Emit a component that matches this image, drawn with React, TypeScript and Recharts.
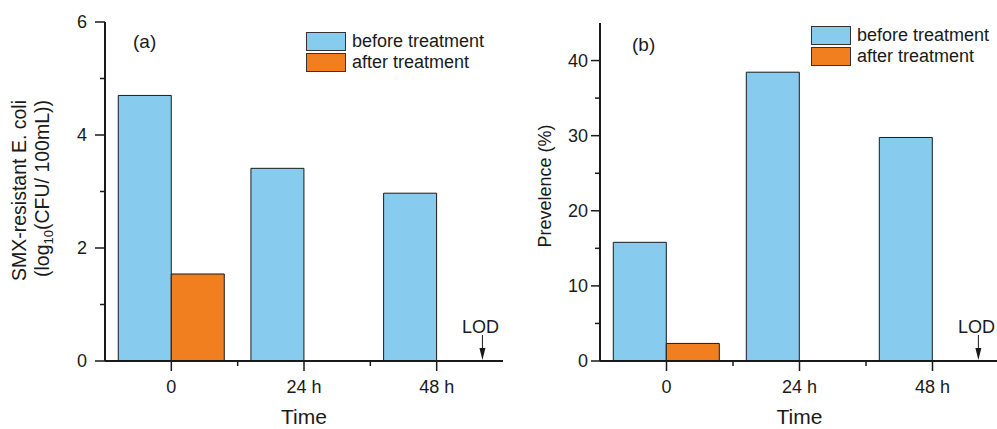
import { Bar, BarChart, Customized, Label, Legend, ReferenceDot, XAxis, YAxis } from "recharts"

const times = ["0", "24 h", "48 h"]
const seriesNames = ["before treatment", "after treatment"]
const coliBefore = [4.7, 3.41, 2.97]
const coliAfter = [1.54, 0, 0]
const prevBefore = [15.8, 38.45, 29.76]
const prevAfter = [2.34, 0, 0]
// after-treatment value fell below the limit of detection
const belowLod = [false, false, true]
const coliTicks = [0, 1, 2, 3, 4, 5, 6]
const prevTicks = [0, 5, 10, 15, 20, 25, 30, 35, 40]

const BLUE = "#87cbee"
const ORANGE = "#f17f20"
const INK = "#1a1a1a"
const FONT = "'Liberation Sans', Arial, sans-serif"
const H = 429

const coliData = times.map((t, i) => ({ time: t, before: coliBefore[i], after: coliAfter[i] }))
const prevData = times.map((t, i) => ({ time: t, before: prevBefore[i], after: prevAfter[i] }))

function makeYTick(majorStep: number, size: number, margin: number) {
  return (p: any) => {
    const v = p.payload.value
    const ax = p.x + size + margin
    const major = v % majorStep === 0
    return (
      <g>
        <line x1={ax} x2={ax - (major ? size : 5)} y1={p.y} y2={p.y} stroke={INK} strokeWidth={1.5} />
        {major && (
          <text x={p.x} y={p.y} dy="0.36em" textAnchor="end" fontSize={18} fill={INK} fontFamily={FONT}>
            {v}
          </text>
        )}
      </g>
    )
  }
}

function makeXTick(band: number, count: number) {
  return (p: any) => {
    const ay = p.y - 19
    return (
      <g>
        <line x1={p.x} x2={p.x} y1={ay} y2={ay + 10} stroke={INK} strokeWidth={1.5} />
        {p.index < count - 1 && (
          <line x1={p.x + band / 2} x2={p.x + band / 2} y1={ay} y2={ay + 5} stroke={INK} strokeWidth={1.5} />
        )}
        <text x={p.x} y={p.y} dy="0.71em" textAnchor="middle" fontSize={18} fill={INK} fontFamily={FONT}>
          {p.payload.value}
        </text>
      </g>
    )
  }
}

function makeLodShape(offset: number) {
  return (p: any) => {
    const cx = p.cx + offset
    const y = p.cy
    return (
      <g>
        <text x={cx - 2} y={y - 28} textAnchor="middle" fontSize={18} fill={INK} fontFamily={FONT}>
          LOD
        </text>
        <line x1={cx} x2={cx} y1={y - 26} y2={y - 12} stroke={INK} strokeWidth={1} />
        <path d={`M${cx - 3},${y - 13} L${cx + 3},${y - 13} L${cx},${y - 1} Z`} fill={INK} />
      </g>
    )
  }
}

function LegendBox(p: any) {
  const items = [...(p.payload ?? [])].sort(
    (a: any, b: any) => seriesNames.indexOf(a.value) - seriesNames.indexOf(b.value)
  )
  return (
    <div style={{ fontFamily: FONT, fontSize: 18, color: INK, lineHeight: "21px" }}>
      {items.map((e: any) => (
        <div key={e.value} style={{ display: "flex", alignItems: "center", height: 21, whiteSpace: "nowrap" }}>
          <span style={{ width: 38, height: 17, background: e.color, border: "1px solid #333", marginRight: 6 }} />
          <span>{e.value}</span>
        </div>
      ))}
    </div>
  )
}

type PanelProps = {
  data: any[]
  width: number
  top: number
  right: number
  yWidth: number
  domain: [number, number]
  ticks: number[]
  majorStep: number
  yTickSize: number
  yTickMargin: number
  yLabel: (vb: any) => any
  tag: string
  tagX: number
  tagY: number
  legendX: number
  legendY: number
}

function Panel(props: PanelProps) {
  const band = (props.width - props.right - props.yWidth) / props.data.length
  const lodShape = makeLodShape(band * 0.345)
  return (
    <BarChart
      width={props.width}
      height={H}
      data={props.data}
      margin={{ top: props.top, right: props.right, bottom: 0, left: 0 }}
      barCategoryGap="10%"
      barGap={0}
    >
      <XAxis
        dataKey="time"
        height={68}
        interval={0}
        tickSize={10}
        tickMargin={9}
        tickLine={false}
        tick={makeXTick(band, props.data.length)}
        axisLine={{ stroke: INK, strokeWidth: 2 }}
      >
        <Label
          content={(p: any) => (
            <text
              x={p.viewBox.x + p.viewBox.width / 2}
              y={p.viewBox.y + 63}
              textAnchor="middle"
              fontSize={21}
              fill={INK}
              fontFamily={FONT}
            >
              Time
            </text>
          )}
        />
      </XAxis>
      <XAxis xAxisId="frame" dataKey="time" orientation="top" height={0} tick={false} tickLine={false} axisLine={{ stroke: INK, strokeWidth: 2 }} />
      <YAxis
        width={props.yWidth}
        domain={props.domain}
        ticks={props.ticks}
        allowDataOverflow
        tickSize={props.yTickSize}
        tickMargin={props.yTickMargin}
        tickLine={false}
        tick={makeYTick(props.majorStep, props.yTickSize, props.yTickMargin)}
        axisLine={{ stroke: INK, strokeWidth: 2 }}
      >
        <Label content={(p: any) => props.yLabel(p.viewBox)} />
      </YAxis>
      <YAxis yAxisId="frame" orientation="right" width={0} domain={props.domain} tick={false} tickLine={false} axisLine={{ stroke: INK, strokeWidth: 2 }} />
      <Legend
        layout="horizontal"
        verticalAlign="middle"
        align="center"
        content={LegendBox}
        wrapperStyle={{ left: props.legendX, top: props.legendY, width: "auto", height: "auto" }}
      />
      <Bar dataKey="before" name={seriesNames[0]} fill={BLUE} stroke={INK} strokeWidth={1} isAnimationActive={false} />
      <Bar dataKey="after" name={seriesNames[1]} fill={ORANGE} stroke={INK} strokeWidth={1} isAnimationActive={false} />
      {props.data.map((d, i) =>
        belowLod[i] ? <ReferenceDot key={d.time} x={d.time} y={0} r={0} shape={lodShape} ifOverflow="visible" /> : null
      )}
      <Customized
        component={() => (
          <text x={props.tagX} y={props.tagY} fontSize={19} fill={INK} fontFamily={FONT}>
            {props.tag}
          </text>
        )}
      />
    </BarChart>
  )
}

export default function App() {
  return (
    <div style={{ position: "absolute", left: 0, top: 0, width: 997, height: H, overflow: "hidden", background: "#fff", display: "flex" }}>
      <div style={{ width: 510, flex: "none" }}>
        <Panel
          data={coliData}
          width={510}
          top={22}
          right={7}
          yWidth={105}
          domain={[0, 6]}
          ticks={coliTicks}
          majorStep={2}
          yTickSize={10}
          yTickMargin={8}
          tag="(a)"
          tagX={133}
          tagY={48}
          legendX={306}
          legendY={31}
          yLabel={(vb: any) => {
            const cy = vb.y + vb.height / 2
            return (
              <g fontFamily={FONT} fill={INK} fontSize={19.5}>
                <text transform="rotate(-90)" x={-cy + 1} y={vb.x + 26} textAnchor="middle">
                  SMX-resistant E. coli
                </text>
                <text transform="rotate(-90)" x={-cy + 3} y={vb.x + 49} textAnchor="middle">
                  (log<tspan fontSize={13} dy={4}>10</tspan>
                  <tspan dy={-4}>(CFU/ 100mL))</tspan>
                </text>
              </g>
            )
          }}
        />
      </div>
      <div style={{ width: 489, flex: "none" }}>
        <Panel
          data={prevData}
          width={489}
          top={23}
          right={0}
          yWidth={90}
          domain={[0, 45]}
          ticks={prevTicks}
          majorStep={10}
          yTickSize={9}
          yTickMargin={3}
          tag="(b)"
          tagX={122}
          tagY={51}
          legendX={301}
          legendY={25}
          yLabel={(vb: any) => {
            const cy = vb.y + vb.height / 2
            return (
              <text transform="rotate(-90)" x={-cy + 6} y={vb.x + 41} textAnchor="middle" fontSize={18} fill={INK} fontFamily={FONT}>
                Prevelence (%)
              </text>
            )
          }}
        />
      </div>
    </div>
  )
}
